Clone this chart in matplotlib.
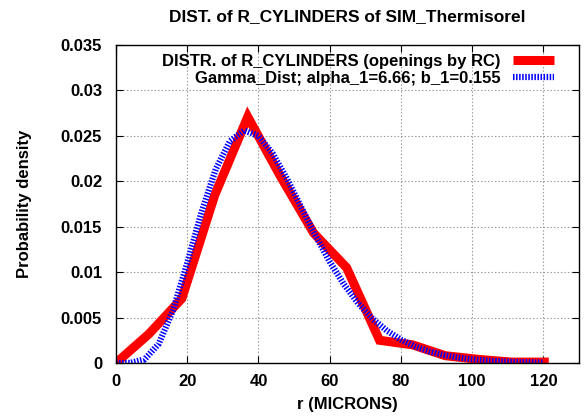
import matplotlib
matplotlib.use("Agg")
import matplotlib.pyplot as plt

plt.rcParams['font.family'] = ['Liberation Sans', 'DejaVu Sans']
plt.rcParams['font.weight'] = 'bold'
plt.rcParams['lines.scale_dashes'] = False

# measured distribution (openings by RC)
r_meas = [0, 9.25, 18.5, 27.75, 37, 46.25, 55.5, 64.75, 74, 83.25, 92.5, 101.75, 111, 120.25]
p_meas = [0, 0.0032, 0.0071, 0.0185, 0.0271, 0.0205, 0.0143, 0.0105, 0.0025, 0.0020,
          0.0008, 0.0004, 0.0001, 0.0001]

# fitted gamma curve
r_fit = [0, 4, 8, 12, 16, 20, 24, 28, 32, 36, 40, 44, 48, 52, 56, 60, 64, 68, 72, 76,
         80, 84, 88, 92, 96, 100, 104, 108, 112, 116, 120]
p_fit = [0, 0.00001, 0.00039, 0.00211, 0.00578, 0.01099, 0.01657, 0.02132, 0.02443,
         0.02560, 0.02500, 0.02305, 0.02028, 0.01716, 0.01404, 0.01116, 0.00866,
         0.00657, 0.00488, 0.00357, 0.00257, 0.00182, 0.00127, 0.00088, 0.00060,
         0.00041, 0.00027, 0.00018, 0.00012, 0.00008, 0.00005]

x_ticks = [0, 20, 40, 60, 80, 100, 120]
y_ticks = [0, 0.005, 0.01, 0.015, 0.02, 0.025, 0.03, 0.035]
y_labels = ['0', '0.005', '0.01', '0.015', '0.02', '0.025', '0.03', '0.035']

fig = plt.figure(figsize=(5.84, 4.17), dpi=100)
ax = fig.add_axes([0.1986, 0.1295, 0.7928, 0.7625])

ax.plot(r_meas, p_meas, color='#ff0000', lw=6.5, solid_joinstyle='miter',
        label='DISTR. of R_CYLINDERS (openings by RC)')
ax.plot(r_fit, p_fit, color='#0000ff', lw=4.5, dashes=(1.1, 1.1), dash_capstyle='butt',
        label='Gamma_Dist; alpha_1=6.66; b_1=0.155')

ax.set_xlim(0, 130)
ax.set_ylim(0, 0.035)
ax.set_xticks(x_ticks)
ax.set_yticks(y_ticks)
ax.set_yticklabels(y_labels)
ax.tick_params(direction='in', top=True, right=True, labelsize=12, length=5)
ax.tick_params(axis='y', pad=10)
ax.tick_params(axis='x', pad=8)
ax.grid(True, color='#999999', linestyle=(0, (1, 1.5)), linewidth=0.8)
for s in ax.spines.values():
    s.set_linewidth(1.0)

ax.set_title('DIST. of R_CYLINDERS of SIM_Thermisorel', fontsize=12.5, fontweight='bold', pad=17)
ax.set_xlabel('r (MICRONS)', fontsize=12, fontweight='bold', labelpad=6)
ax.set_ylabel('Probability density', fontsize=12, fontweight='bold', labelpad=21)

leg = ax.legend(loc='upper right', frameon=False, markerfirst=False, fontsize=12,
                handlelength=2.45, handletextpad=0.72, labelspacing=0.1,
                borderaxespad=0.1, bbox_to_anchor=(0.963, 0.998))
for h in leg.get_lines():
    h.set_solid_capstyle('butt')

fig.savefig('out.png', dpi=100)
